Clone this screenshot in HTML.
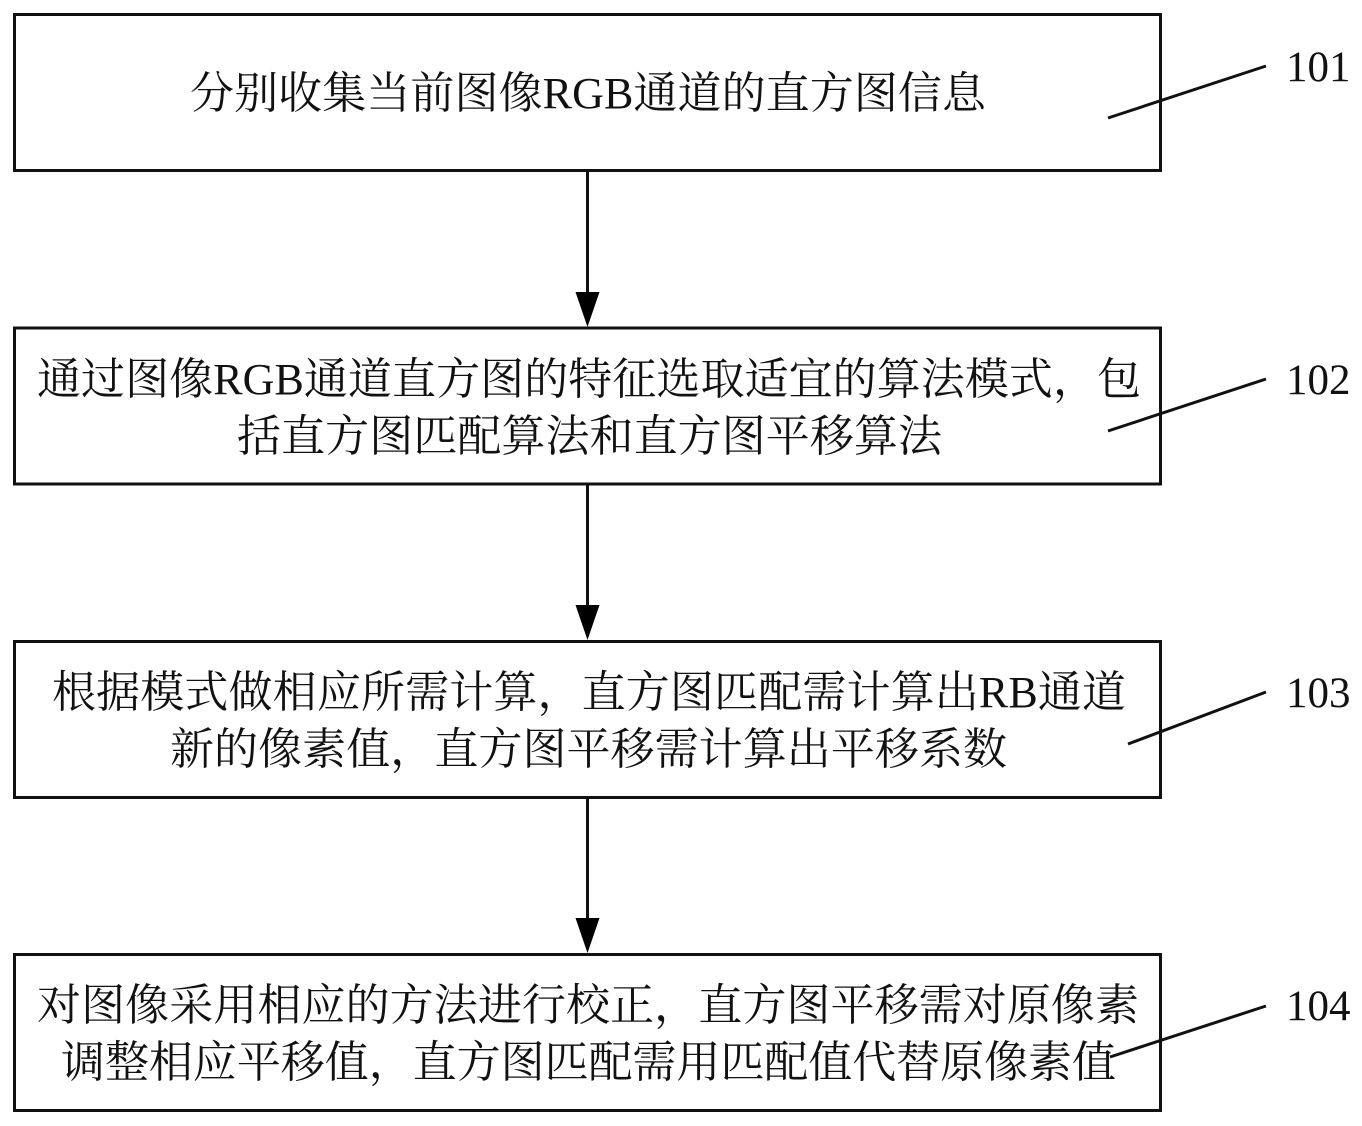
<!DOCTYPE html>
<html lang="zh">
<head>
<meta charset="utf-8">
<style>
html,body{margin:0;padding:0;background:#fff;width:1362px;height:1126px;overflow:hidden}
svg{display:block}
text{font-family:"Liberation Serif","Noto Serif CJK SC",serif;font-size:44px;fill:#111}
text.n{font-size:43px}
</style>
</head>
<body>
<svg width="1362" height="1126" viewBox="0 0 1362 1126" xmlns="http://www.w3.org/2000/svg">
<g fill="none" stroke="#111" stroke-width="3">
<rect x="14.5" y="14.5" width="1146" height="156"/>
<rect x="14.5" y="328" width="1146" height="156"/>
<rect x="14.5" y="641.5" width="1146" height="156"/>
<rect x="14.5" y="954.5" width="1146" height="156"/>
<path d="M587.5 171V295M587.5 484V608M587.5 797V921"/>
<path d="M1108 118L1266 66M1108 431L1266 379M1128 744L1266 692M1110 1057L1266 1006"/>
</g>
<g fill="#000">
<path d="M575.5 292H599.5L587.5 327Z"/>
<path d="M575.5 605H599.5L587.5 640Z"/>
<path d="M575.5 918H599.5L587.5 953Z"/>
</g>
<text x="190" y="108" textLength="796" lengthAdjust="spacing">分别收集当前图像RGB通道的直方图信息</text>
<text x="37" y="394" textLength="1104" lengthAdjust="spacing">通过图像RGB通道直方图的特征选取适宜的算法模式，包</text>
<text x="237" y="451" textLength="705" lengthAdjust="spacing">括直方图匹配算法和直方图平移算法</text>
<text x="52" y="707" textLength="1074" lengthAdjust="spacing">根据模式做相应所需计算，直方图匹配需计算出RB通道</text>
<text x="170" y="764" textLength="837" lengthAdjust="spacing">新的像素值，直方图平移需计算出平移系数</text>
<text x="37" y="1020" textLength="1102" lengthAdjust="spacing">对图像采用相应的方法进行校正，直方图平移需对原像素</text>
<text x="61" y="1077" textLength="1055" lengthAdjust="spacing">调整相应平移值，直方图匹配需用匹配值代替原像素值</text>
<text class="n" x="1286" y="81">101</text>
<text class="n" x="1286" y="394">102</text>
<text class="n" x="1286" y="707">103</text>
<text class="n" x="1286" y="1020">104</text>
</svg>
</body>
</html>
